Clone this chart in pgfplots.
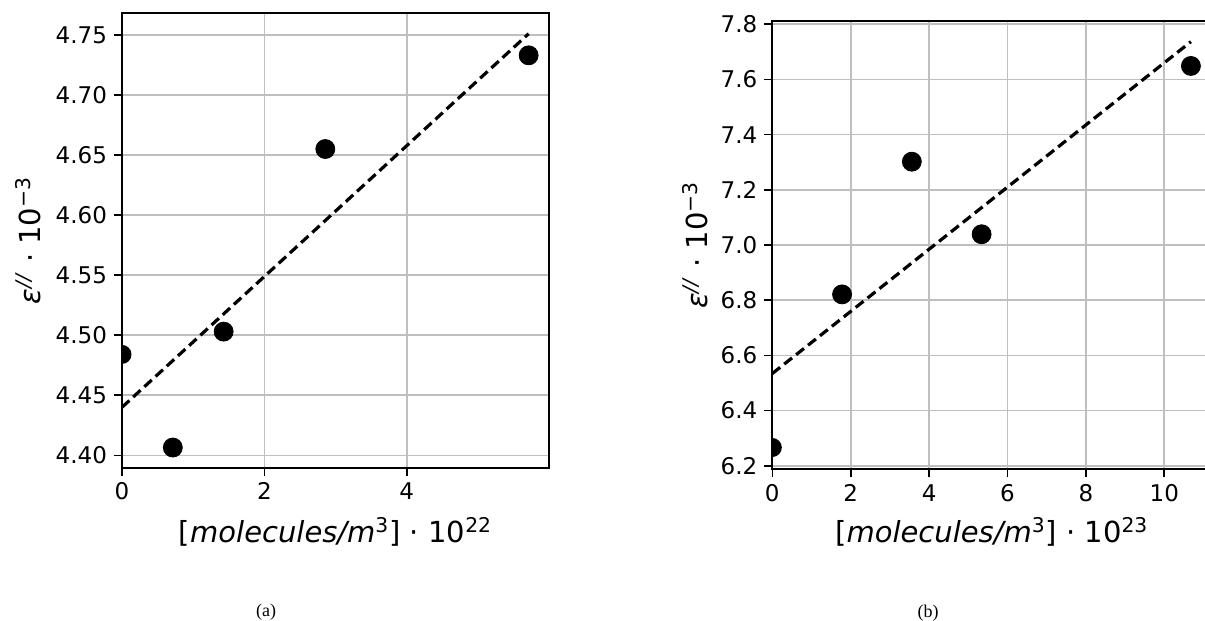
\documentclass[border=0pt]{standalone}
\usepackage{fontspec}
\setmainfont{DejaVu Sans}
\newfontfamily\capfont{Liberation Serif}
\usepackage{pgfplots}
\pgfplotsset{compat=1.18}
% right half of a filled disc: the marker of a point that sits on the left axis edge
\pgfdeclareplotmark{halfdot}{%
  \pgfpathmoveto{\pgfpoint{0pt}{-\pgfplotmarksize}}%
  \pgfpatharc{-90}{90}{\pgfplotmarksize}%
  \pgfpathclose
  \pgfusepathqfill}
\pgfplotsset{
  myax/.style={
    scale only axis,
    axis line style={line width=1pt, black},
    grid=major,
    major grid style={line width=0.8pt, color=black!25},
    tick align=outside,
    major tick length=4pt,
    tick style={line width=0.8pt, black},
    xtick pos=lower, ytick pos=left,
    tick label style={font=\fontsize{11.5}{13}\selectfont},
    /pgf/number format/assume math mode=true,
    label style={font=\fontsize{14.5}{16}\selectfont},
  },
  dots/.style={only marks, mark=*, mark size=4.75pt, black},
  edgedots/.style={only marks, mark=halfdot, mark size=4.75pt, black},
}
\begin{document}
\begin{tikzpicture}
\path[use as bounding box] (0pt,0pt) rectangle (602.5pt,310.5pt);
\begin{axis}[myax,
  at={(61pt,76.7pt)}, anchor=south west,
  width=213.5pt, height=227.15pt,
  xmin=0, xmax=5.998, ymin=4.3898, ymax=4.768,
  xtick={0,2,4},
  ytick={4.40,4.45,4.50,4.55,4.60,4.65,4.70,4.75},
  yticklabel style={/pgf/number format/.cd, fixed, fixed zerofill, precision=2},
  xlabel={[\textit{molecules/m}\textsuperscript{3}] · 10\textsuperscript{22}},
  ylabel={{\itshape ε}\textsuperscript{\textit{//}} · 10\textsuperscript{−3}},
  xlabel style={at={(axis description cs:0.5,-0.142)}, anchor=center},
  ylabel style={at={(axis description cs:-0.22,0.5)}, anchor=center},
]
\addplot[edgedots] coordinates {(0,4.484)};
\addplot[dots] coordinates {
  (0.714,4.4065) (1.428,4.503) (2.856,4.655) (5.712,4.733)};
\addplot[black, line width=1.6pt, dash pattern=on 5pt off 2.6pt] coordinates {
  (0,4.440) (5.712,4.751)};
\end{axis}
\begin{axis}[myax,
  at={(386.15pt,75.85pt)}, anchor=south west,
  width=219.5pt, height=224.3pt,
  xmin=0, xmax=11.2, ymin=6.187, ymax=7.813,
  xtick={0,2,4,6,8,10},
  ytick={6.2,6.4,6.6,6.8,7.0,7.2,7.4,7.6,7.8},
  yticklabel style={/pgf/number format/.cd, fixed, fixed zerofill, precision=1},
  xlabel={[\textit{molecules/m}\textsuperscript{3}] · 10\textsuperscript{23}},
  ylabel={{\itshape ε}\textsuperscript{\textit{//}} · 10\textsuperscript{−3}},
  xlabel style={at={(axis description cs:0.5,-0.14)}, anchor=center},
  ylabel style={at={(axis description cs:-0.176,0.5)}, anchor=center},
]
\addplot[edgedots] coordinates {(0,6.266)};
\addplot[dots] coordinates {
  (1.78,6.821) (3.56,7.302) (5.34,7.039) (10.68,7.649)};
\addplot[black, line width=1.6pt, dash pattern=on 5pt off 2.6pt] coordinates {
  (0,6.534) (10.68,7.737)};
\end{axis}
\node[font=\capfont\fontsize{9}{10}\selectfont] at (133pt,4.6pt) {(a)};
\node[font=\capfont\fontsize{9}{10}\selectfont] at (464pt,4pt) {(b)};
\end{tikzpicture}
\end{document}
